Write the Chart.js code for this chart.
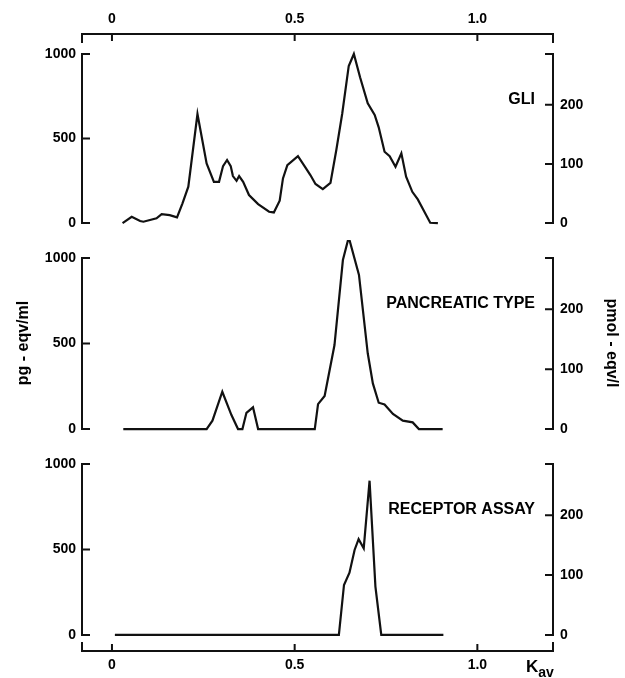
<!DOCTYPE html>
<html>
<head>
<meta charset="utf-8">
<title>Kav elution profiles</title>
<script src="https://cdn.jsdelivr.net/npm/chart.js@4/dist/chart.umd.min.js"></script>
<style>
  html, body { margin: 0; padding: 0; background: #fff; }
  #wrap { position: relative; width: 625px; height: 678px; }
</style>
</head>
<body>
<div id="wrap"><canvas id="c" width="625" height="678"></canvas></div>
<script>
// Elution position (Kav) and concentration (pg-eqv/ml) for each profile
const gliKav = [0.029, 0.054, 0.077, 0.086, 0.122, 0.136, 0.158, 0.178, 0.193, 0.209,
  0.234, 0.259, 0.279, 0.293, 0.304, 0.315, 0.325, 0.331, 0.341, 0.348,
  0.359, 0.375, 0.400, 0.430, 0.443, 0.459, 0.468, 0.480, 0.509, 0.527,
  0.543, 0.557, 0.577, 0.598, 0.614, 0.630, 0.648, 0.662, 0.679, 0.700,
  0.719, 0.730, 0.746, 0.760, 0.776, 0.792, 0.805, 0.822, 0.837, 0.855,
  0.871, 0.892];
const gliPg = [0, 37, 12, 8, 28, 53, 47, 34, 117, 215,
  645, 353, 244, 244, 337, 373, 337, 278, 250, 278,
  244, 166, 112, 67, 63, 132, 264, 343, 396, 337,
  284, 231, 201, 238, 432, 645, 929, 1000, 862, 708,
  639, 566, 422, 396, 333, 412, 274, 185, 140, 67,
  2, 0];

const pancKav = [0.031, 0.259, 0.275, 0.302, 0.327, 0.345, 0.357, 0.368, 0.386, 0.400,
  0.555, 0.564, 0.582, 0.609, 0.632, 0.648, 0.676, 0.700, 0.714, 0.730,
  0.746, 0.769, 0.796, 0.823, 0.840, 0.905];
const pancPg = [0, 0, 49, 218, 82, 0, 0, 95, 127, 0,
  0, 146, 193, 491, 988, 1121, 901, 443, 267, 154,
  144, 88, 49, 39, 0, 0];

const recKav = [0.008, 0.621, 0.635, 0.650, 0.664, 0.675, 0.689, 0.705, 0.721, 0.737, 0.907];
const recPg = [0, 0, 292, 364, 497, 560, 507, 902, 283, 0, 0];

// Axis ticks and labels
const kavTicks = [0, 0.5, 1.0];
const kavTickLabels = ['0', '0.5', '1.0'];
const pgTicks = [0, 500, 1000];
const pmolTicks = [0, 100, 200];
const panelNames = ['GLI', 'PANCREATIC TYPE', 'RECEPTOR ASSAY'];
const PG_PER_PMOL = 3.5;   // conversion pg-eqv/ml -> pmol-eqv/l
const PG_TOP = 1000;

// Vertical extents of the three stacked panels (value range of each band)
const bandRanges = [[-100, 1118], [-99, 1105], [-94, 1105]];
const bandWeights = [206, 206, 205];

const FONT = '"Liberation Sans", Arial, Helvetica, sans-serif';
const INK = '#111';

function toPoints(xs, ys) { return xs.map((k, i) => ({ x: k, y: ys[i] })); }

function kavAxis(position, height) {
  return {
    type: 'linear', position, min: -0.082, max: 1.207,
    afterFit: s => { s.height = height; },
    afterBuildTicks: s => { s.ticks = kavTicks.map(v => ({ value: v })); },
    grid: { display: false, drawTicks: false },
    border: { display: false },
    ticks: {
      autoSkip: false, maxRotation: 0, padding: 6,
      color: '#000', font: { family: FONT, size: 14, weight: 'bold' },
      callback: (v, i) => kavTickLabels[i]
    }
  };
}

function pgAxis(i) {
  const ax = {
    type: 'linear', position: 'left', stack: 'left', stackWeight: bandWeights[i],
    weight: 3 - i,
    min: bandRanges[i][0], max: bandRanges[i][1],
    afterFit: s => { s.width = 82; },
    afterBuildTicks: s => { s.ticks = pgTicks.map(v => ({ value: v })); },
    grid: { display: false, drawTicks: false },
    border: { display: false },
    ticks: { padding: 6, color: '#000', font: { family: FONT, size: 14, weight: 'bold' },
      callback: v => String(v) }
  };
  if (i === 1) {
    ax.title = { display: true, text: 'pg - eqv/ml', color: '#000',
      font: { family: FONT, size: 16, weight: 'bold' }, padding: { top: 14, bottom: 0 } };
  }
  return ax;
}

function pmolAxis(i) {
  const ax = {
    type: 'linear', position: 'right', stack: 'right', stackWeight: bandWeights[i],
    weight: i + 1,
    min: bandRanges[i][0] / PG_PER_PMOL, max: bandRanges[i][1] / PG_PER_PMOL,
    afterFit: s => { s.width = 72; },
    afterBuildTicks: s => { s.ticks = pmolTicks.map(v => ({ value: v })); },
    grid: { display: false, drawTicks: false },
    border: { display: false },
    ticks: { padding: 7, color: '#000', font: { family: FONT, size: 14, weight: 'bold' },
      callback: v => String(v) }
  };
  if (i === 1) {
    ax.title = { display: true, text: 'pmol - eqv/l', color: '#000',
      font: { family: FONT, size: 16, weight: 'bold' }, padding: { top: 4, bottom: 0 } };
  }
  return ax;
}

// Bracket-style axes with inward ticks, panel names and the Kav axis label
const frames = {
  id: 'frames',
  afterDraw(chart) {
    const { ctx, chartArea: { left, right, top, bottom } } = chart;
    const x = chart.scales.x;
    ctx.save();
    ctx.strokeStyle = INK;
    ctx.lineWidth = 2;
    ctx.lineCap = 'butt';

    // top and bottom Kav axes
    [[top, 1], [bottom, -1]].forEach(([y, dir]) => {
      ctx.beginPath();
      ctx.moveTo(left - 1, y); ctx.lineTo(right + 1, y);
      ctx.moveTo(left, y); ctx.lineTo(left, y + dir * 9);
      ctx.moveTo(right, y); ctx.lineTo(right, y + dir * 9);
      kavTicks.forEach(v => {
        const px = x.getPixelForValue(v);
        ctx.moveTo(px, y); ctx.lineTo(px, y + dir * 7);
      });
      ctx.stroke();
    });

    for (let i = 0; i < 3; i++) {
      const sl = chart.scales['yL' + (i + 1)];
      const sr = chart.scales['yR' + (i + 1)];
      const l0 = sl.getPixelForValue(0), l1 = sl.getPixelForValue(PG_TOP);
      const r0 = sr.getPixelForValue(0), r1 = sr.getPixelForValue(PG_TOP / PG_PER_PMOL);
      ctx.beginPath();
      ctx.moveTo(left, l0 + 1); ctx.lineTo(left, l1 - 1);
      pgTicks.forEach(v => {
        const py = sl.getPixelForValue(v);
        ctx.moveTo(left - 1, py); ctx.lineTo(left + 8, py);
      });
      ctx.moveTo(right, r0 + 1); ctx.lineTo(right, r1 - 1);
      pmolTicks.concat([PG_TOP / PG_PER_PMOL]).forEach(v => {
        const py = sr.getPixelForValue(v);
        ctx.moveTo(right + 1, py); ctx.lineTo(right - 8, py);
      });
      ctx.stroke();

      ctx.fillStyle = '#000';
      ctx.font = 'bold 16px ' + FONT;
      ctx.textAlign = 'right';
      ctx.textBaseline = 'middle';
      ctx.fillText(panelNames[i], right - 18, l1 + 46);
    }

    // K with subscript "av"
    ctx.textAlign = 'left';
    ctx.textBaseline = 'alphabetic';
    ctx.font = 'bold 17px ' + FONT;
    ctx.fillText('K', right - 27, bottom + 21);
    const kw = ctx.measureText('K').width;
    ctx.font = 'bold 14px ' + FONT;
    ctx.fillText('av', right - 27 + kw, bottom + 26);
    ctx.restore();
  }
};

const lineStyle = { borderColor: INK, borderWidth: 2.2, pointRadius: 0, tension: 0, fill: false };

new Chart(document.getElementById('c'), {
  type: 'line',
  data: {
    datasets: [
      Object.assign({ label: panelNames[0], data: toPoints(gliKav, gliPg), xAxisID: 'x', yAxisID: 'yL1' }, lineStyle),
      Object.assign({ label: panelNames[1], data: toPoints(pancKav, pancPg), xAxisID: 'x', yAxisID: 'yL2' }, lineStyle),
      Object.assign({ label: panelNames[2], data: toPoints(recKav, recPg), xAxisID: 'x', yAxisID: 'yL3' }, lineStyle)
    ]
  },
  options: {
    responsive: false,
    animation: false,
    devicePixelRatio: 1,
    layout: { padding: 0 },
    plugins: { legend: { display: false }, tooltip: { enabled: false } },
    scales: {
      x: kavAxis('bottom', 27),
      x2: kavAxis('top', 34),
      yL1: pgAxis(0), yL2: pgAxis(1), yL3: pgAxis(2),
      yR1: pmolAxis(0), yR2: pmolAxis(1), yR3: pmolAxis(2)
    }
  },
  plugins: [frames]
});
</script>
</body>
</html>
